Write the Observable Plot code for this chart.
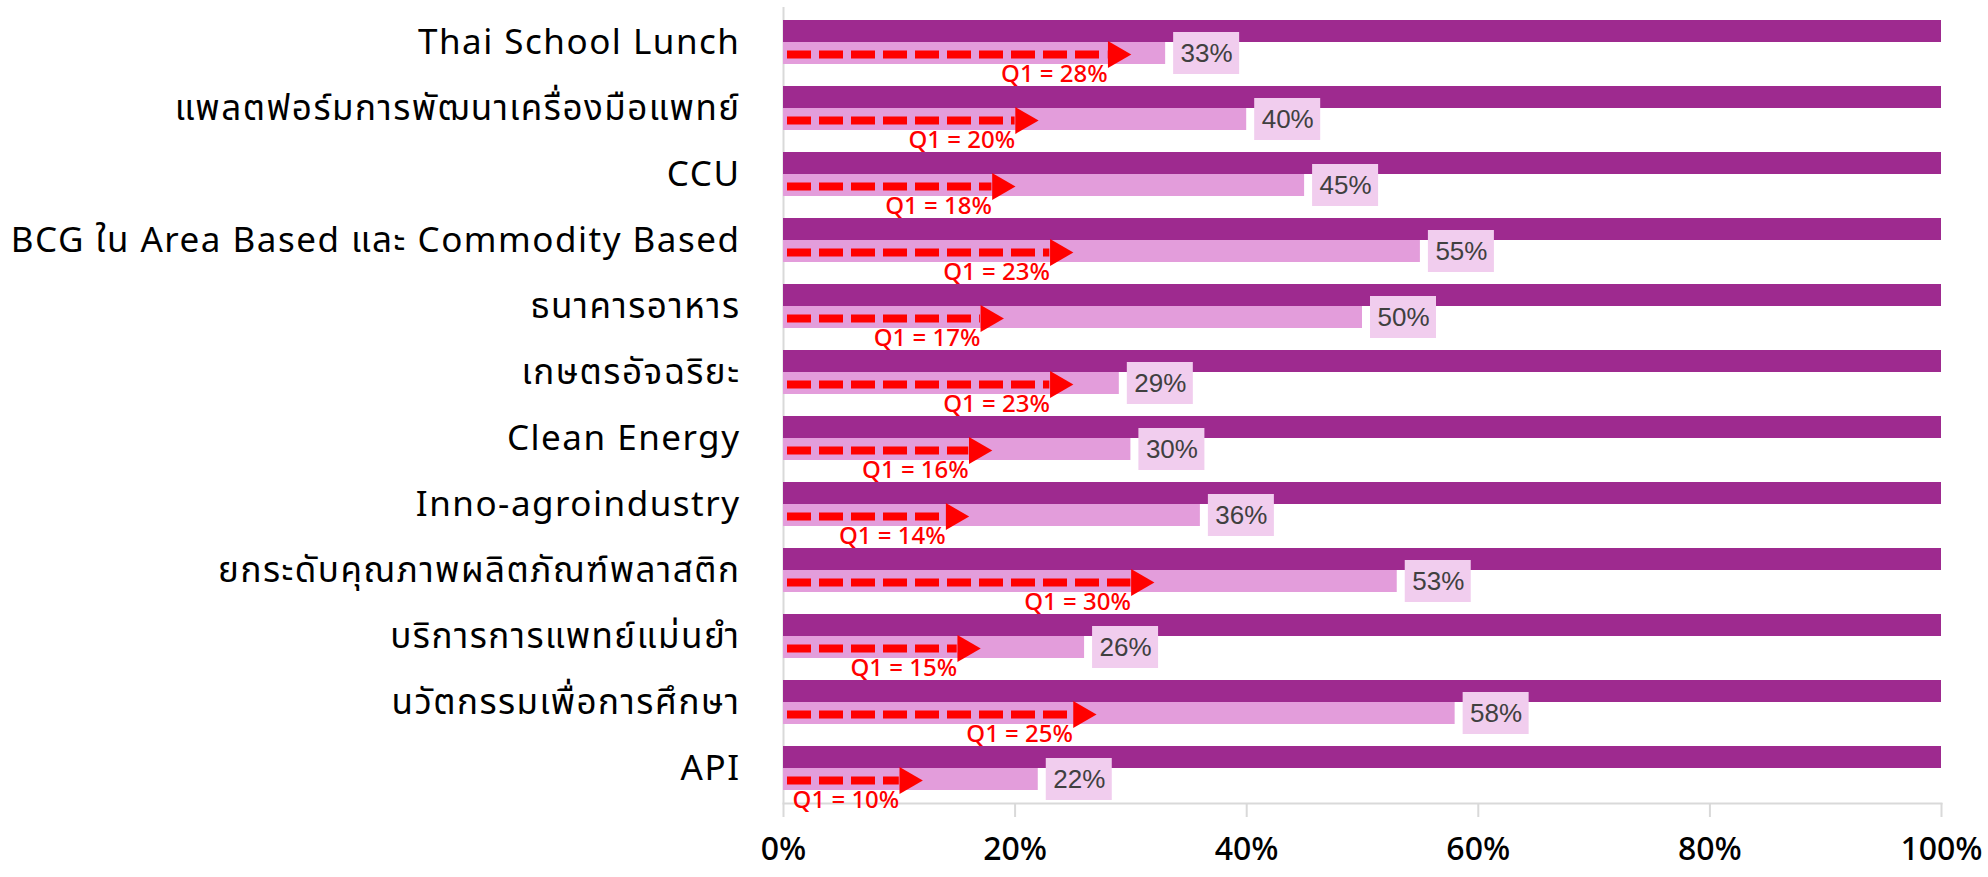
<!DOCTYPE html>
<html>
<head>
<meta charset="utf-8">
<script src="https://cdn.jsdelivr.net/npm/d3@7"></script>
<script src="https://cdn.jsdelivr.net/npm/@observablehq/plot@0.6"></script>
<style>
  html, body { margin: 0; padding: 0; background: #ffffff; }
  #chart svg { display: block; }
  #chart svg g[aria-label="y-axis tick label"] text { letter-spacing: 1.5px; }
</style>
</head>
<body>
<div id="chart"></div>
<script>
const categories = [
  "Thai School Lunch",
  "แพลตฟอร์มการพัฒนาเครื่องมือแพทย์",
  "CCU",
  "BCG ใน Area Based และ Commodity Based",
  "ธนาคารอาหาร",
  "เกษตรอัจฉริยะ",
  "Clean Energy",
  "Inno-agroindustry",
  "ยกระดับคุณภาพผลิตภัณฑ์พลาสติก",
  "บริการการแพทย์แม่นยำ",
  "นวัตกรรมเพื่อการศึกษา",
  "API"
];
const progress = [0.33, 0.40, 0.45, 0.55, 0.50, 0.29, 0.30, 0.36, 0.53, 0.26, 0.58, 0.22];
const q1Target = [0.28, 0.20, 0.18, 0.23, 0.17, 0.23, 0.16, 0.14, 0.30, 0.15, 0.25, 0.10];
const fullTarget = [1, 1, 1, 1, 1, 1, 1, 1, 1, 1, 1, 1];
const xTicks = [0, 0.2, 0.4, 0.6, 0.8, 1];

const data = categories.map((name, i) => ({
  name, full: fullTarget[i], value: progress[i], q1: q1Target[i]
}));

const font = "'Noto Sans Thai', 'Noto Sans', 'Open Sans', sans-serif";
const pct = d3.format(".0%");

const chart = Plot.plot({
  width: 1988,
  height: 877,
  marginLeft: 783,
  marginRight: 47,
  marginTop: 7,
  marginBottom: 74,
  style: {fontFamily: font, background: "#ffffff"},
  x: {domain: [0, 1], label: null},
  y: {domain: categories, paddingInner: 1/3, paddingOuter: 1/6, label: null},
  marks: [
    Plot.ruleX([0], {stroke: "#d9d9d9", strokeWidth: 2}),
    Plot.frame({anchor: "bottom", stroke: "#d9d9d9", strokeWidth: 2}),
    Plot.barX(data, {y: "name", x: "full", fill: "#9e2a8f", insetBottom: 22}),
    Plot.barX(data, {y: "name", x: "value", fill: "#e39ddb", insetTop: 22}),
    Plot.barX(data, {y: "name", x1: "value", x2: "value", fill: "#f1cdee",
      insetLeft: 8, insetRight: -74, insetTop: 12, insetBottom: -10}),
    Plot.text(data, {y: "name", x: "value", text: d => pct(d.value), dx: 41, dy: 11,
      textAnchor: "middle", fill: "#404040", fontSize: 26, fontFamily: "'Liberation Sans', Arial, sans-serif"}),
    Plot.ruleY(data, {y: "name", x1: 0, x2: "q1", stroke: "#ff0000", strokeWidth: 8,
      strokeDasharray: "24,8", insetLeft: 4, dy: 12}),
    Plot.dot(data, {y: "name", x: "q1", symbol: "triangle", rotate: 90, r: 10,
      fill: "#ff0000", stroke: null, dx: 8, dy: 12}),
    Plot.text(data, {y: "name", x: "q1", text: d => "Q1 = " + pct(d.q1), dy: 32,
      textAnchor: "end", fill: "#ff0000", fontSize: 24, fontWeight: 500}),
    Plot.axisY({tickSize: 0, tickPadding: 43, fontSize: 35, color: "#000000", label: null}),
    Plot.axisX({ticks: xTicks, tickFormat: pct, tickSize: 14, tickPadding: 20, fontSize: 32,
      fontWeight: 500, stroke: "#d9d9d9", strokeWidth: 2, color: "#000000", label: null})
  ]
});
document.getElementById("chart").appendChild(chart);
</script>
</body>
</html>
